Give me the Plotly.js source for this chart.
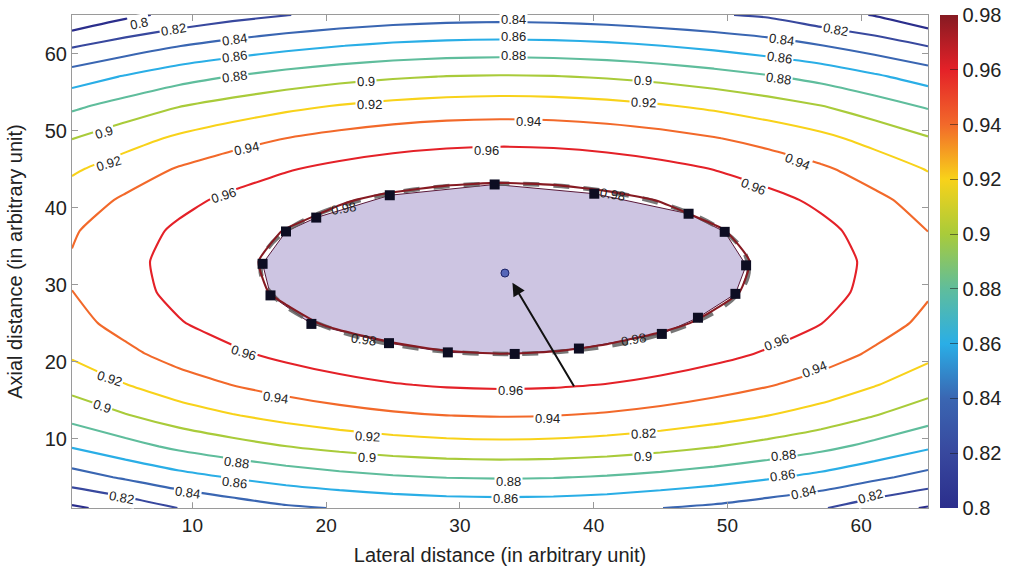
<!DOCTYPE html>
<html><head><meta charset="utf-8">
<script src="https://cdn.plot.ly/plotly-3.0.1.min.js"></script>
<style>html,body{margin:0;padding:0;background:#fff;} #chart{width:1012px;height:573px;}</style>
</head><body><div id="chart"></div>
<script>
// Grid nodes (arbitrary units)
const gridX = [1,5,9,13,17,21,25,29,33,37,41,45,49,53,57,61,65];
const gridY = [1,5,9,13,17,21,25,29,33,37,41,45,49,53,57,61,65];
// Field values estimated from the contour picture (rows = gridY, columns = gridX)
const zField = [
 [0.7967,0.8073,0.8204,0.8291,0.8370,0.8410,0.8448,0.8473,0.8483,0.8475,0.8452,0.8402,0.8360,0.8291,0.8217,0.8086,0.7982],
 [0.8314,0.8426,0.8533,0.8613,0.8682,0.8738,0.8780,0.8806,0.8816,0.8809,0.8784,0.8745,0.8691,0.8624,0.8545,0.8441,0.8330],
 [0.8614,0.8731,0.8842,0.8926,0.8998,0.9056,0.9100,0.9128,0.9139,0.9131,0.9105,0.9064,0.9008,0.8938,0.8855,0.8746,0.8631],
 [0.8867,0.8987,0.9102,0.9189,0.9264,0.9325,0.9370,0.9399,0.9410,0.9402,0.9376,0.9333,0.9274,0.9201,0.9116,0.9003,0.8884],
 [0.9071,0.9195,0.9313,0.9403,0.9480,0.9542,0.9589,0.9619,0.9630,0.9622,0.9595,0.9550,0.9490,0.9415,0.9327,0.9211,0.9089],
 [0.9229,0.9355,0.9475,0.9567,0.9646,0.9709,0.9757,0.9788,0.9799,0.9791,0.9763,0.9718,0.9656,0.9580,0.9489,0.9371,0.9247],
 [0.9338,0.9466,0.9588,0.9681,0.9761,0.9826,0.9874,0.9905,0.9917,0.9908,0.9880,0.9834,0.9772,0.9694,0.9603,0.9483,0.9356],
 [0.9399,0.9529,0.9651,0.9746,0.9826,0.9892,0.9941,0.9972,0.9984,0.9975,0.9946,0.9900,0.9837,0.9759,0.9666,0.9546,0.9418],
 [0.9414,0.9544,0.9666,0.9761,0.9841,0.9907,0.9956,0.9987,0.9999,0.9990,0.9962,0.9915,0.9852,0.9774,0.9681,0.9561,0.9433],
 [0.9381,0.9510,0.9632,0.9726,0.9806,0.9871,0.9920,0.9951,0.9963,0.9954,0.9926,0.9880,0.9817,0.9739,0.9647,0.9527,0.9399],
 [0.9300,0.9427,0.9548,0.9641,0.9721,0.9785,0.9834,0.9864,0.9876,0.9867,0.9839,0.9794,0.9731,0.9654,0.9563,0.9444,0.9318],
 [0.9171,0.9297,0.9416,0.9507,0.9585,0.9649,0.9696,0.9726,0.9738,0.9729,0.9702,0.9657,0.9596,0.9520,0.9430,0.9313,0.9189],
 [0.8995,0.9118,0.9234,0.9324,0.9400,0.9461,0.9508,0.9537,0.9548,0.9540,0.9513,0.9469,0.9410,0.9336,0.9248,0.9134,0.9013],
 [0.8771,0.8890,0.9004,0.9090,0.9164,0.9224,0.9268,0.9297,0.9308,0.9300,0.9274,0.9231,0.9174,0.9102,0.9017,0.8906,0.8788],
 [0.8500,0.8615,0.8724,0.8807,0.8878,0.8935,0.8978,0.9005,0.9016,0.9008,0.8983,0.8942,0.8887,0.8818,0.8737,0.8630,0.8516],
 [0.8181,0.8291,0.8395,0.8474,0.8541,0.8596,0.8637,0.8663,0.8673,0.8665,0.8642,0.8603,0.8550,0.8485,0.8408,0.8305,0.8196],
 [0.7814,0.7958,0.8047,0.8132,0.8195,0.8246,0.8285,0.8309,0.8319,0.8312,0.8289,0.8253,0.8215,0.8175,0.8069,0.7991,0.7849]
];
const contourLevels = [0.8,0.82,0.84,0.86,0.88,0.9,0.92,0.94,0.96,0.98];
const colorbarTicks = [0.8,0.82,0.84,0.86,0.88,0.9,0.92,0.94,0.96,0.98];
const colorbarTickText = ['0.8','0.82','0.84','0.86','0.88','0.9','0.92','0.94','0.96','0.98'];
const xTicks = [10,20,30,40,50,60];
const yTicks = [10,20,30,40,50,60];
// Contour labels as printed on the figure (text, position, slope angle)
const labelText = ['0.8','0.82','0.84','0.86','0.88','0.9','0.92','0.94','0.96','0.9','0.92','0.96','0.84','0.86','0.88','0.9','0.92','0.94','0.84','0.86','0.88','0.82','0.94','0.96','0.98','0.98',
                   '0.96','0.98','0.92','0.9','0.94','0.92','0.9','0.88','0.86','0.84','0.82','0.96','0.94','0.82','0.9','0.98','0.96','0.94','0.88','0.86','0.84','0.82','0.88','0.86'];
const labelX = [6.04,8.58,13.13,13.13,13.13,3.36,3.73,14.03,12.31,22.99,23.21,32.01,34.03,34.03,34.03,43.66,43.73,35.15,54.03,53.88,53.81,58.06,55.22,51.94,41.42,21.27,
                13.81,22.76,3.81,3.28,16.19,23.06,23.06,13.28,13.13,9.63,4.70,33.81,36.57,43.73,43.66,42.99,53.66,56.49,54.18,54.10,55.67,60.67,33.66,33.43];
const labelY = [63.89,63.11,61.81,59.61,57.02,49.77,45.75,47.69,41.61,56.37,53.39,47.44,64.40,62.20,59.74,56.50,53.65,51.19,61.81,59.48,56.76,63.11,46.01,42.77,41.74,39.92,
                21.14,22.82,17.77,14.15,15.31,10.26,7.54,6.89,4.30,3.01,2.36,16.22,12.59,10.65,7.67,22.82,22.44,18.94,7.80,5.21,3.01,2.49,4.43,2.23];
const labelAngle = [-12,-9,-8,-8,-8,-17,-17,-12,-18,-2,-1,0,0,0,0,2,2,0,8,8,8,10,22,22,10,-10,
                    17,8,18,18,8,3,2,7,7,8,10,0,0,-3,-1,-10,-22,-22,-6,-9,-13,-15,0,0];
// Square markers on the 0.98 boundary (in order around the region)
const boundaryX = [32.6,40.05,47.1,49.8,51.4,50.6,47.8,45.1,38.9,34.1,29.1,24.7,18.9,15.84,15.25,17.0,19.26,24.76];
const boundaryY = [43.0,41.8,39.2,36.85,32.5,28.8,25.7,23.6,21.7,21.0,21.2,22.4,24.9,28.6,32.7,36.9,38.7,41.6];
// Fitted ellipse extents (dashed grey)
const fitEllipseX = [15.1, 51.6];
const fitEllipseY = [21.0, 43.1];
// Centre point and arrow
const centreX = [33.37];
const centreY = [31.5];
const arrowTail = [38.6, 16.6];
const arrowHead = [33.93, 30.25];

const jet = [
 [0.000,'#2b2e8c'],[0.111,'#38489e'],[0.222,'#3a66b2'],[0.333,'#2aaee6'],
 [0.444,'#5fbd9c'],[0.556,'#a9cb3a'],[0.667,'#f8d21a'],[0.778,'#f2692a'],
 [0.889,'#e42128'],[1.000,'#861a22']
];
const FONT = 'Liberation Sans, Arial, Helvetica, sans-serif';

const contourTrace = {
  type:'contour', x:gridX, y:gridY, z:zField,
  zmin:contourLevels[0], zmax:contourLevels[contourLevels.length-1], zauto:false,
  autocontour:false,
  contours:{start:contourLevels[0], end:contourLevels[contourLevels.length-1]+0.001,
            size:contourLevels[1]-contourLevels[0], coloring:'lines', showlabels:false},
  line:{width:2.1, smoothing:0.5},
  colorscale:jet, showscale:false, hoverinfo:'skip'
};
const colorbarTrace = {
  type:'scatter', mode:'markers', x:[null], y:[null], hoverinfo:'skip', showlegend:false,
  marker:{color:[contourLevels[0]], cmin:contourLevels[0], cmax:contourLevels[contourLevels.length-1],
    colorscale:jet, showscale:true,
    colorbar:{x:1.014, xanchor:'left', y:0.5, yanchor:'middle', len:1, lenmode:'fraction',
      thickness:18, outlinewidth:0, xpad:0, ypad:0,
      tickvals:colorbarTicks, ticktext:colorbarTickText, ticks:'inside', ticklen:8,
      tickcolor:'rgba(30,30,30,0.55)', tickfont:{family:FONT, size:20, color:'#222'}}}
};
const markerTrace = {
  type:'scatter', mode:'markers', x:boundaryX, y:boundaryY, hoverinfo:'skip',
  marker:{symbol:'square', size:10, color:'#0d0d22'}
};
const centreTrace = {
  type:'scatter', mode:'markers', x:centreX, y:centreY, hoverinfo:'skip',
  marker:{symbol:'circle', size:8, color:'#5566b8', line:{color:'#1b2266', width:1}}
};

const path = 'M ' + boundaryX.map((v,i)=> v + ',' + boundaryY[i]).join(' L ') + ' Z';

const labelAnnotations = labelText.map((t,i)=>({
  xref:'x', yref:'y', x:labelX[i], y:labelY[i], text:t, showarrow:false,
  textangle:labelAngle[i], xanchor:'center', yanchor:'middle',
  font:{family:FONT, size:13, color:'#222'},
  bgcolor: t === '0.98' ? 'rgba(0,0,0,0)' : '#ffffff', borderpad:1
}));

const layout = {
  width:1012, height:573, margin:{l:72, r:84, t:15, b:65, autoexpand:false},
  paper_bgcolor:'#fff', plot_bgcolor:'#fff', showlegend:false, hovermode:false,
  font:{family:FONT, color:'#222'},
  xaxis:{range:[1,65], tickvals:xTicks, ticks:'inside', ticklen:6, tickcolor:'#999',
    showline:true, linecolor:'#9a9a9a', linewidth:1, mirror:'ticks', showgrid:false, zeroline:false,
    tickfont:{size:19, color:'#222'},
    title:{text:'Lateral distance (in arbitrary unit)', font:{size:20, color:'#222'}, standoff:13}},
  yaxis:{range:[1,65], tickvals:yTicks, ticks:'inside', ticklen:6, tickcolor:'#999',
    showline:true, linecolor:'#9a9a9a', linewidth:1, mirror:'ticks', showgrid:false, zeroline:false,
    tickfont:{size:20, color:'#222'},
    title:{text:'Axial distance (in arbitrary unit)', font:{size:20, color:'#222'}, standoff:16}},
  shapes:[
    {type:'path', xref:'x', yref:'y', path:path, layer:'below',
     fillcolor:'#cdc5e2', line:{color:'#5a1a3a', width:1}},
    {type:'circle', xref:'x', yref:'y', layer:'below',
     x0:fitEllipseX[0], x1:fitEllipseX[1], y0:fitEllipseY[0], y1:fitEllipseY[1],
     line:{color:'rgba(95,95,95,0.85)', width:4.5, dash:'16px,14px'}}
  ],
  annotations:[
    {xref:'x', yref:'y', axref:'x', ayref:'y', x:arrowHead[0], y:arrowHead[1],
     ax:arrowTail[0], ay:arrowTail[1], text:'', showarrow:true, arrowhead:2,
     arrowsize:1.3, arrowwidth:2, arrowcolor:'#111'}
  ].concat(labelAnnotations)
};

Plotly.newPlot('chart', [contourTrace, colorbarTrace, markerTrace, centreTrace], layout, {staticPlot:true, displayModeBar:false});
</script>
</body></html>
